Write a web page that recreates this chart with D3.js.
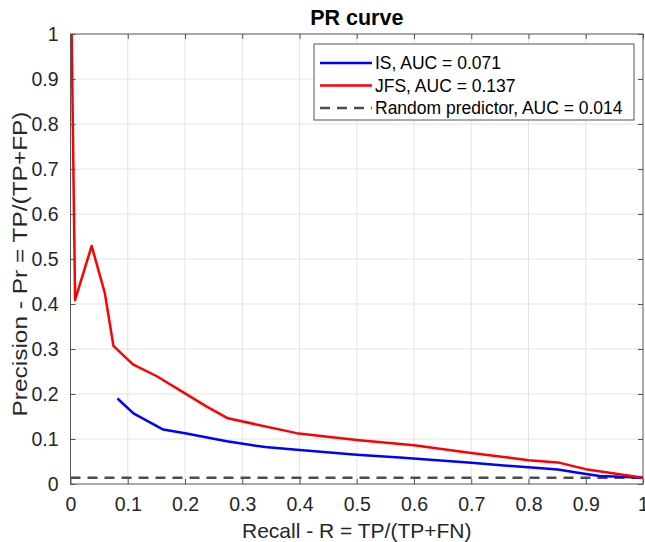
<!DOCTYPE html>
<meta charset="utf-8">
<html>
<head>
    <style>
        body {
            margin: 0;
            background: #fff;
            font-family: 'Liberation Sans', Arial, sans-serif;
        }

        .grid line {
            stroke: #e3e3e3;
            stroke-width: 1;
        }

        .axis path {
            display: none;
        }

        .axis line {
            stroke: #555;
        }

        .axis text {
            font-size: 19.5px;
            fill: #262626;
        }
    </style>
</head>

<body>
    <svg id="chart"></svg>

    <script src="https://cdn.jsdelivr.net/npm/d3@7"></script>
    <script>

        // valores
        var recallIS = [0.082, 0.110, 0.162, 0.200, 0.273, 0.340, 0.395, 0.500, 0.575, 0.700, 0.800, 0.851, 0.892, 0.924, 0.960, 1.000];
        var precisionIS = [0.190, 0.157, 0.121, 0.113, 0.095, 0.082, 0.076, 0.065, 0.059, 0.047, 0.037, 0.032, 0.024, 0.018, 0.016, 0.014];

        var recallJFS = [0.002, 0.008, 0.037, 0.060, 0.075, 0.109, 0.150, 0.200, 0.238, 0.275, 0.395, 0.500, 0.600, 0.700, 0.800, 0.851, 0.900, 1.000];
        var precisionJFS = [1.000, 0.409, 0.529, 0.424, 0.307, 0.266, 0.240, 0.2015, 0.172, 0.146, 0.113, 0.098, 0.086, 0.069, 0.053, 0.048, 0.033, 0.014];

        var recallRandom = [0, 1];
        var precisionRandom = [0.014, 0.014];

        var tickValues = [0, 0.1, 0.2, 0.3, 0.4, 0.5, 0.6, 0.7, 0.8, 0.9, 1];
        var tickLabels = ["0", "0.1", "0.2", "0.3", "0.4", "0.5", "0.6", "0.7", "0.8", "0.9", "1"];

        var legendLabels = ["IS, AUC = 0.071", "JFS, AUC = 0.137", "Random predictor, AUC = 0.014"];
        var colors = ["#0000ff", "#ff0000", "#4d4d4d"];

        // dimensoes
        var W = 645, H = 542;
        var margin = { top: 34, right: 2, bottom: 58, left: 70.5 },
            width = W - margin.left - margin.right,
            height = H - margin.top - margin.bottom;

        var root = d3.select("#chart")
            .attr("width", W)
            .attr("height", H);

        var svg = root.append("g")
            .attr("transform", "translate(" + margin.left + "," + margin.top + ")");

        var x = d3.scaleLinear().domain([0, 1]).range([0, width]);
        var y = d3.scaleLinear().domain([0, 1]).range([height, 0]);

        function fmt(d) { return tickLabels[tickValues.indexOf(d)]; }

        // grid
        svg.append("g").attr("class", "grid")
            .selectAll("line").data(tickValues.slice(1, -1)).enter()
            .append("line")
            .attr("x1", function (d) { return x(d); })
            .attr("x2", function (d) { return x(d); })
            .attr("y1", 0).attr("y2", height);
        svg.append("g").attr("class", "grid")
            .selectAll("line").data(tickValues.slice(1, -1)).enter()
            .append("line")
            .attr("y1", function (d) { return y(d); })
            .attr("y2", function (d) { return y(d); })
            .attr("x1", 0).attr("x2", width);

        // eixos (ticks para dentro, estilo matlab)
        svg.append("g").attr("class", "axis")
            .attr("transform", "translate(0," + height + ")")
            .call(d3.axisBottom(x).tickValues(tickValues).tickFormat(fmt).tickSizeInner(-5).tickPadding(13));
        svg.append("g").attr("class", "axis")
            .call(d3.axisLeft(y).tickValues(tickValues).tickFormat(fmt).tickSizeInner(-5).tickPadding(12));
        svg.append("g").attr("class", "axis")
            .call(d3.axisTop(x).tickValues(tickValues).tickFormat("").tickSizeInner(-5));
        svg.append("g").attr("class", "axis")
            .attr("transform", "translate(" + width + ",0)")
            .call(d3.axisRight(y).tickValues(tickValues).tickFormat("").tickSizeInner(-5));

        // curvas
        var line = d3.line()
            .x(function (d) { return x(d[0]); })
            .y(function (d) { return y(d[1]); });

        svg.append("path")
            .datum(d3.zip(recallRandom, precisionRandom))
            .attr("d", line)
            .attr("fill", "none")
            .attr("stroke", colors[2])
            .attr("stroke-width", 2.5)
            .attr("stroke-dasharray", "10,7");

        svg.append("path")
            .datum(d3.zip(recallIS, precisionIS))
            .attr("d", line)
            .attr("fill", "none")
            .attr("stroke", colors[0])
            .attr("stroke-width", 2.5)
            .attr("stroke-linejoin", "round");

        svg.append("path")
            .datum(d3.zip(recallJFS, precisionJFS))
            .attr("d", line)
            .attr("fill", "none")
            .attr("stroke", colors[1])
            .attr("stroke-width", 2.5)
            .attr("stroke-linejoin", "round");

        // caixa
        svg.append("rect")
            .attr("width", width).attr("height", height)
            .attr("fill", "none").attr("stroke", "#555").attr("stroke-width", 1);

        // titulo e rotulos
        root.append("text")
            .attr("x", margin.left + width / 2).attr("y", 25)
            .attr("text-anchor", "middle")
            .style("font-size", "21.5px").style("font-weight", "bold").style("fill", "#000")
            .text("PR curve");

        root.append("text")
            .attr("x", margin.left + width / 2).attr("y", 538)
            .attr("text-anchor", "middle")
            .style("font-size", "21px").style("fill", "#262626")
            .text("Recall - R = TP/(TP+FN)");

        root.append("text")
            .attr("transform", "translate(27,264) rotate(-90)")
            .attr("text-anchor", "middle")
            .attr("textLength", 305).attr("lengthAdjust", "spacingAndGlyphs")
            .style("font-size", "21px").style("fill", "#262626")
            .text("Precision - Pr = TP/(TP+FP)");

        // legenda
        var lg = root.append("g").attr("transform", "translate(314,44)");
        lg.append("rect")
            .attr("width", 320).attr("height", 76)
            .attr("fill", "#fff").attr("stroke", "#555").attr("stroke-width", 1);

        var items = lg.selectAll("g.item").data(legendLabels).enter()
            .append("g").attr("class", "item")
            .attr("transform", function (d, i) { return "translate(0," + (19 + i * 22.5) + ")"; });
        items.append("line")
            .attr("x1", 6).attr("x2", 58)
            .attr("stroke", function (d, i) { return colors[i]; })
            .attr("stroke-width", 2.5)
            .attr("stroke-dasharray", function (d, i) { return i == 2 ? "10,7" : null; });
        items.append("text")
            .attr("x", 61).attr("y", 6)
            .style("font-size", "17.5px").style("fill", "#000")
            .text(function (d) { return d; });

    </script>
</body>
</html>
